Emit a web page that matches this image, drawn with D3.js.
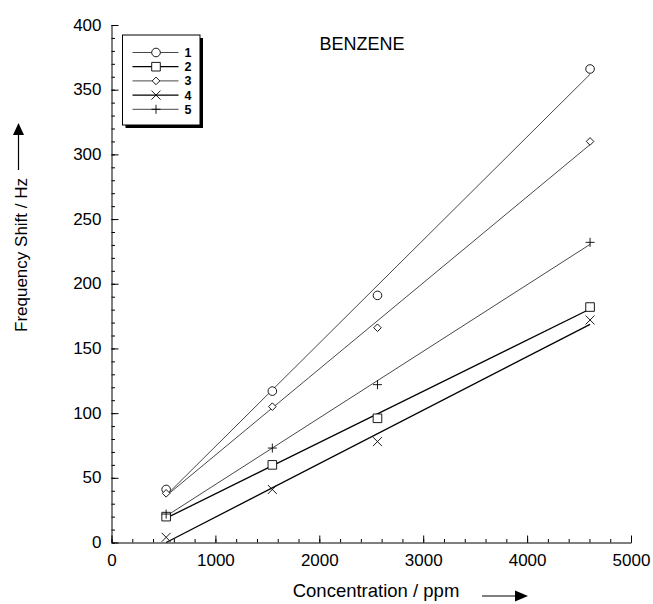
<!DOCTYPE html>
<html lang="en">
<head>
	<meta charset="UTF-8">
	<style>
	body { margin: 0; background: #fff; }
	svg { display: block; font-family: "Liberation Sans", Arial, sans-serif; }
	</style>
	<script src="https://d3js.org/d3.v7.min.js"></script>
	<title>Benzene</title>
</head>
<body>
	<div id="chart"></div>
	<script>
		// Values
		const concentration = [526, 1548, 2560, 4606];
		const series1 = [41, 117, 191, 366];
		const series2 = [20, 60, 96, 182];
		const series3 = [38, 105, 166, 310];
		const series4 = [4, 41, 78, 172];
		const series5 = [22, 73, 122, 232];
		const seriesNames = ["1", "2", "3", "4", "5"];
		const markers = ["circle", "square", "diamond", "times", "plus"];
		const xTicks = [0, 1000, 2000, 3000, 4000, 5000];
		const yTicks = [0, 50, 100, 150, 200, 250, 300, 350, 400];

		const allSeries = [series1, series2, series3, series4, series5];
		// thin grey lines for 1, 3, 5; heavier black for 2, 4
		const lineStyle = [
			{ w: 0.9, c: "#333" },
			{ w: 1.3, c: "#000" },
			{ w: 0.9, c: "#333" },
			{ w: 1.3, c: "#000" },
			{ w: 0.9, c: "#333" }
		];

		const svg = d3.select("#chart")
			.append("svg")
			.attr("width", 653)
			.attr("height", 604);

		const x = d3.scaleLinear().domain([0, 5000]).range([111.5, 631]);
		const y = d3.scaleLinear().domain([0, 400]).range([542.5, 25]);

		// minor ticks first, then the major axes on top
		svg.append("g")
			.attr("transform", "translate(0," + y(0) + ")")
			.call(d3.axisBottom(x).tickValues(d3.range(0, 5001, 200)).tickSize(-3.5).tickSizeOuter(0).tickFormat(""))
			.call(g => g.select(".domain").remove());
		svg.append("g")
			.attr("transform", "translate(" + x(0) + ",0)")
			.call(d3.axisLeft(y).tickValues(d3.range(0, 401, 10)).tickSize(-3.5).tickSizeOuter(0).tickFormat(""))
			.call(g => g.select(".domain").remove());

		const xAxis = svg.append("g")
			.attr("transform", "translate(0," + y(0) + ")")
			.call(d3.axisBottom(x).tickValues(xTicks).tickSize(-7).tickSizeOuter(0).tickPadding(11).tickFormat(d3.format("d")));
		const yAxis = svg.append("g")
			.attr("transform", "translate(" + x(0) + ",0)")
			.call(d3.axisLeft(y).tickValues(yTicks).tickSize(-7).tickSizeOuter(0).tickPadding(10).tickFormat(d3.format("d")));

		svg.selectAll(".tick text")
			.attr("font-family", "Liberation Sans, Arial, sans-serif")
			.attr("font-size", 17)
			.attr("fill", "#000");
		svg.selectAll(".tick line, .domain")
			.attr("stroke", "#000")
			.attr("stroke-width", 1);
		yAxis.selectAll(".tick text").attr("dy", "0.3em");

		// marker path around (0,0)
		function markerPath(type) {
			const p = d3.path();
			if (type === "circle") {
				p.arc(0, 0, 4.3, 0, 2 * Math.PI);
			} else if (type === "square") {
				p.rect(-4.3, -4.3, 8.6, 8.6);
			} else if (type === "diamond") {
				p.moveTo(0, -3.8); p.lineTo(3.8, 0); p.lineTo(0, 3.8); p.lineTo(-3.8, 0); p.closePath();
			} else if (type === "times") {
				p.moveTo(-4.5, -4.5); p.lineTo(4.5, 4.5); p.moveTo(4.5, -4.5); p.lineTo(-4.5, 4.5);
			} else {
				p.moveTo(-4.5, 0); p.lineTo(4.5, 0); p.moveTo(0, -4.5); p.lineTo(0, 4.5);
			}
			return p.toString();
		}

		// least squares line through each series
		function fit(xs, ys) {
			const mx = d3.mean(xs), my = d3.mean(ys);
			const sxy = d3.sum(xs, (v, i) => (v - mx) * (ys[i] - my));
			const sxx = d3.sum(xs, v => (v - mx) * (v - mx));
			const b = sxy / sxx;
			return { a: my - b * mx, b: b };
		}

		const plot = svg.append("g");
		allSeries.forEach(function(vals, k) {
			const f = fit(concentration, vals);
			const x0 = d3.min(concentration), x1 = d3.max(concentration);
			plot.append("line")
				.attr("x1", x(x0)).attr("y1", y(f.a + f.b * x0))
				.attr("x2", x(x1)).attr("y2", y(f.a + f.b * x1))
				.attr("stroke", lineStyle[k].c)
				.attr("stroke-width", lineStyle[k].w);
		});
		allSeries.forEach(function(vals, k) {
			plot.append("g")
				.selectAll("path")
				.data(vals)
				.join("path")
				.attr("transform", (d, i) => "translate(" + x(concentration[i]) + "," + y(d) + ")")
				.attr("d", markerPath(markers[k]))
				.attr("fill", (markers[k] === "times" || markers[k] === "plus") ? "none" : "#fff")
				.attr("stroke", "#000")
				.attr("stroke-width", 0.9);
		});

		// legend box with drop shadow
		const legend = svg.append("g").attr("transform", "translate(122.5,35)");
		legend.append("rect")
			.attr("x", 3).attr("y", 3).attr("width", 77.5).attr("height", 90)
			.attr("fill", "#000");
		legend.append("rect")
			.attr("x", 0).attr("y", 0).attr("width", 77.5).attr("height", 90)
			.attr("fill", "#fff").attr("stroke", "#000").attr("stroke-width", 1);
		seriesNames.forEach(function(name, k) {
			const ly = 17.5 + k * 14.2;
			legend.append("line")
				.attr("x1", 10).attr("x2", 56).attr("y1", ly).attr("y2", ly)
				.attr("stroke", lineStyle[k].c).attr("stroke-width", lineStyle[k].w);
			legend.append("path")
				.attr("transform", "translate(33.5," + ly + ")")
				.attr("d", markerPath(markers[k]))
				.attr("fill", (markers[k] === "times" || markers[k] === "plus") ? "none" : "#fff")
				.attr("stroke", "#000").attr("stroke-width", 0.9);
			legend.append("text")
				.attr("x", 62).attr("y", ly + 4.5)
				.attr("font-size", 12.5).attr("font-weight", "bold")
				.text(name);
		});

		// title
		svg.append("text")
			.attr("x", 362).attr("y", 50)
			.attr("text-anchor", "middle")
			.attr("font-size", 18)
			.text("BENZENE");

		// axis titles with arrows
		svg.append("text")
			.attr("x", 376).attr("y", 597)
			.attr("text-anchor", "middle")
			.attr("font-size", 18.5)
			.text("Concentration / ppm");
		svg.append("line")
			.attr("x1", 482).attr("x2", 516).attr("y1", 596).attr("y2", 596)
			.attr("stroke", "#000").attr("stroke-width", 1.2);
		svg.append("path")
			.attr("d", "M515,590.5L528,596L515,601.5Z")
			.attr("fill", "#000");

		svg.append("text")
			.attr("transform", "translate(27,255) rotate(-90)")
			.attr("text-anchor", "middle")
			.attr("font-size", 17)
			.text("Frequency Shift / Hz");
		svg.append("line")
			.attr("x1", 18.5).attr("x2", 18.5).attr("y1", 170).attr("y2", 134)
			.attr("stroke", "#000").attr("stroke-width", 1.2);
		svg.append("path")
			.attr("d", "M13,135L18.5,123L24,135Z")
			.attr("fill", "#000");
	</script>
</body>
</html>
